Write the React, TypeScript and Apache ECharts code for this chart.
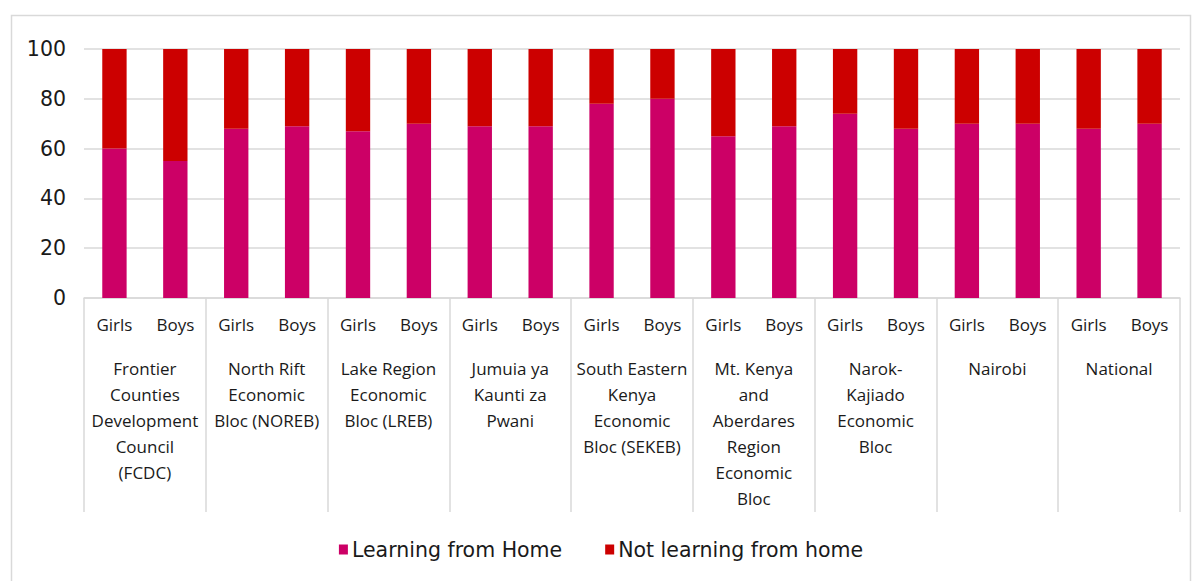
import React, { useEffect, useRef } from "react";
import * as echarts from "echarts";

const groups: string[] = [
  "Frontier\nCounties\nDevelopment\nCouncil\n(FCDC)",
  "North Rift\nEconomic\nBloc (NOREB)",
  "Lake Region\nEconomic\nBloc (LREB)",
  "Jumuia ya\nKaunti za\nPwani",
  "South Eastern\nKenya\nEconomic\nBloc (SEKEB)",
  "Mt. Kenya\nand\nAberdares\nRegion\nEconomic\nBloc",
  "Narok-\nKajiado\nEconomic\nBloc",
  "Nairobi",
  "National",
];
const genders: string[] = ["Girls", "Boys"];
const categories: string[] = groups.flatMap(() => genders);

const learningFromHome: number[] = [60, 55, 68, 69, 67, 70, 69, 69, 78, 80, 65, 69, 74, 68, 70, 70, 68, 70];
const notLearningFromHome: number[] = [40, 45, 32, 31, 33, 30, 31, 31, 22, 20, 35, 31, 26, 32, 30, 30, 32, 30];

const yTicks = { min: 0, max: 100, interval: 20 };

export default function App() {
  const ref = useRef<HTMLDivElement>(null);
  useEffect(() => {
    if (!ref.current) return;
    const chart = echarts.init(ref.current, undefined, { renderer: "svg" });
    const sans = "'DejaVu Sans', sans-serif";
    const catFont = "'Open Sans', sans-serif";
    chart.setOption({
      animation: false,
      backgroundColor: "#ffffff",
      graphic: [
        {
          type: "rect",
          shape: { x: 11.5, y: 15.5, width: 1179, height: 600 },
          style: { fill: "none", stroke: "#d9d9d9", lineWidth: 1.5 },
          silent: true,
        },
      ],
      legend: {
        bottom: 16,
        left: "center",
        itemWidth: 9,
        itemHeight: 10,
        itemGap: 43,
        icon: "rect",
        textStyle: { fontFamily: sans, fontSize: 20.5, color: "#1a1a1a", padding: [0, 0, 0, -1] },
        data: ["Learning from Home", "Not learning from home"],
      },
      grid: { left: 84, right: 22, top: 49, bottom: 283, containLabel: false },
      xAxis: [
        {
          type: "category",
          data: categories,
          axisLine: { show: true, lineStyle: { color: "#d9d9d9", width: 1.5 } },
          axisTick: { show: false },
          axisLabel: { interval: 0, margin: 18, fontFamily: catFont, fontSize: 17, color: "#1a1a1a" },
        },
        {
          type: "category",
          data: groups,
          position: "bottom",
          axisLine: { show: false },
          axisTick: { show: true, interval: 0, length: 214, lineStyle: { color: "#d9d9d9", width: 1.5 } },
          axisLabel: {
            interval: 0,
            margin: 57,
            fontFamily: catFont,
            fontSize: 17,
            lineHeight: 26,
            color: "#1a1a1a",
          },
        },
      ],
      yAxis: {
        type: "value",
        ...yTicks,
        axisLine: { show: false },
        axisTick: { show: false },
        splitLine: { lineStyle: { color: "#d9d9d9", width: 1.5 } },
        axisLabel: { margin: 18, fontFamily: sans, fontSize: 20.5, color: "#1a1a1a" },
      },
      series: [
        {
          name: "Learning from Home",
          type: "bar",
          stack: "total",
          barWidth: "40%",
          xAxisIndex: 0,
          data: learningFromHome,
          itemStyle: { color: "#CC0066" },
        },
        {
          name: "Not learning from home",
          type: "bar",
          stack: "total",
          barWidth: "40%",
          xAxisIndex: 0,
          data: notLearningFromHome,
          itemStyle: { color: "#CC0000" },
        },
      ],
    });
    return () => chart.dispose();
  }, []);
  return (
    <div
      ref={ref}
      style={{ position: "fixed", left: 0, top: 0, width: 1202, height: 581 }}
    />
  );
}
